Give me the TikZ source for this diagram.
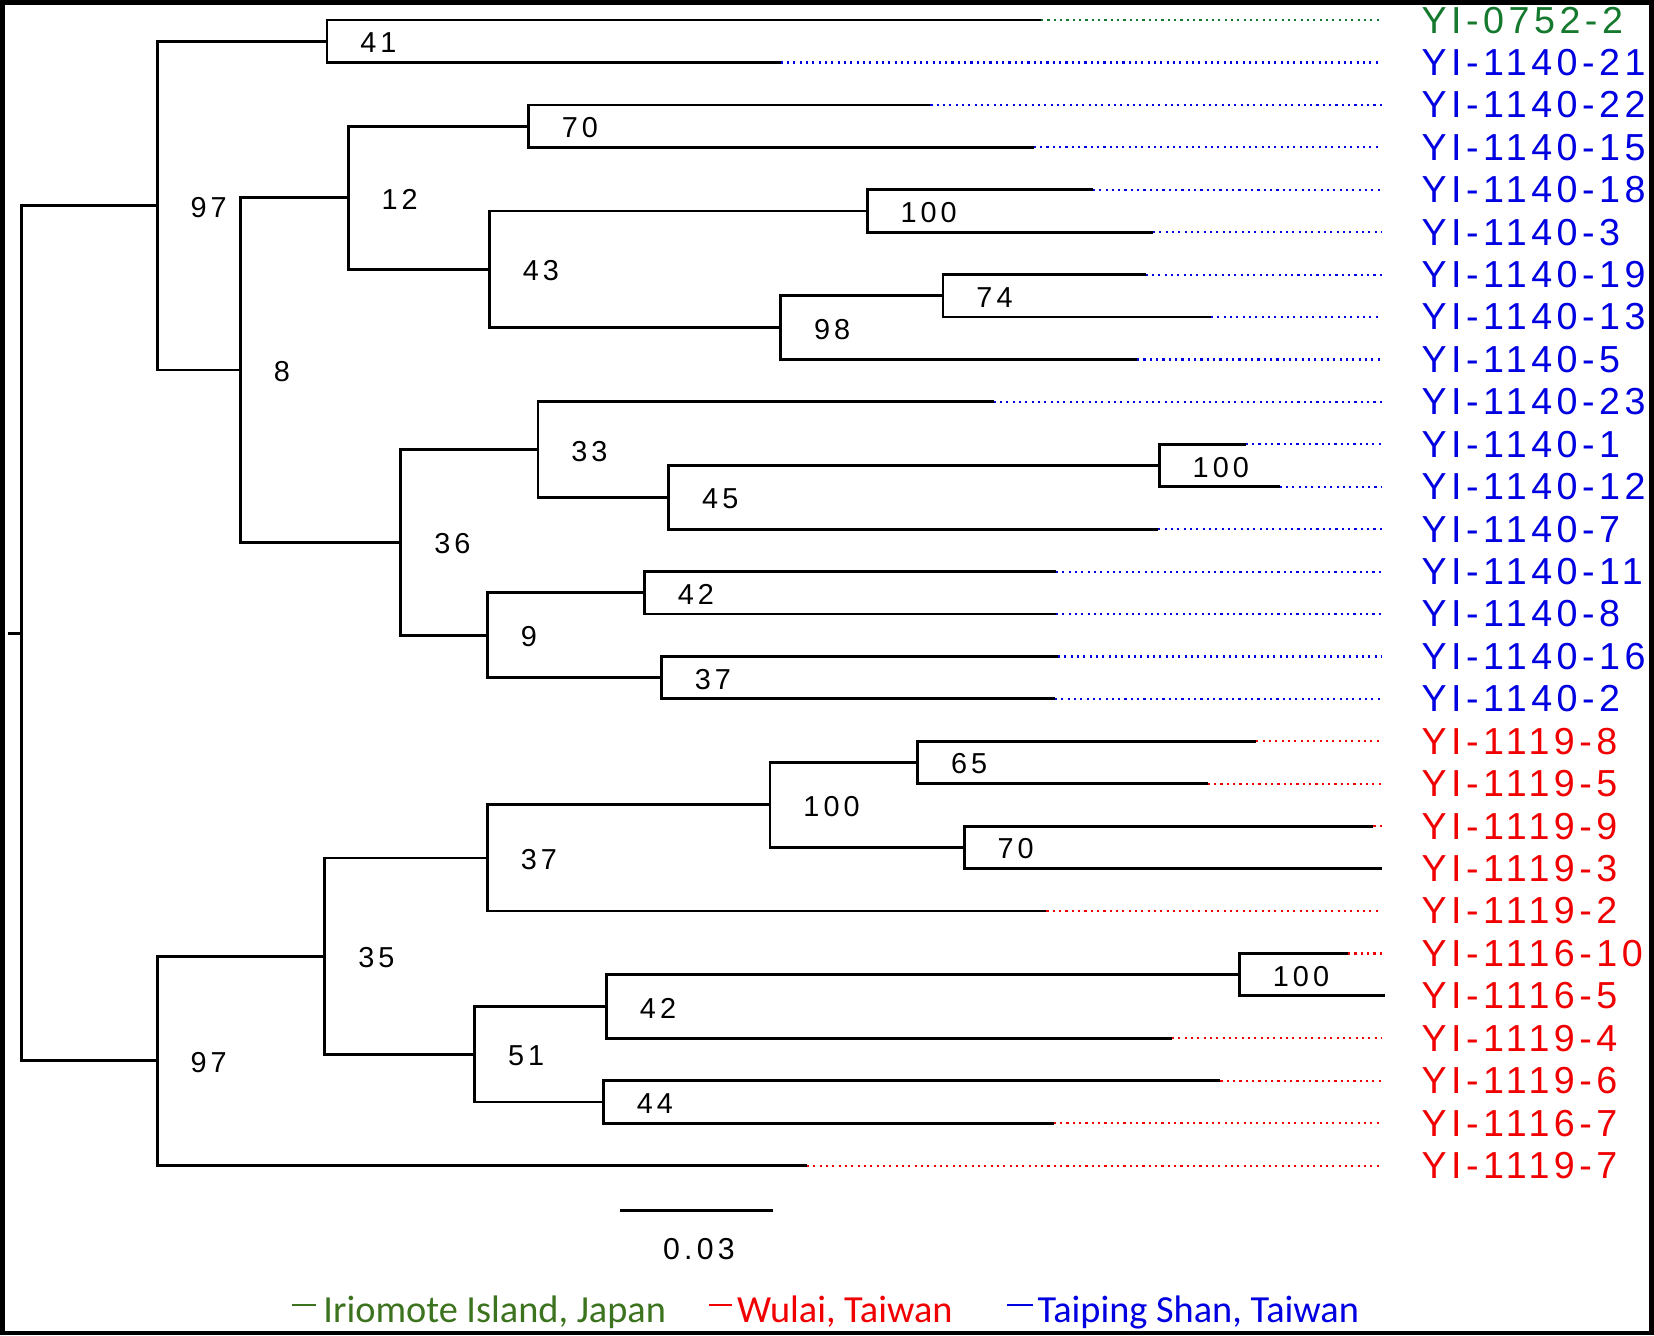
\documentclass[tikz,border=0pt]{standalone}
\usepackage{fontspec}
\setmainfont{Liberation Sans}
\newfontfamily\taxonfont[LetterSpace=12]{Liberation Sans}
\newfontfamily\bootfont[LetterSpace=14]{Liberation Sans}
\newfontfamily\legendfont{Carlito}
\definecolor{isl}{RGB}{20,120,45}
\definecolor{islkey}{RGB}{60,115,30}
\definecolor{wul}{RGB}{240,0,0}
\definecolor{tps}{RGB}{0,0,225}
\tikzset{
  branch/.style={line width=0.8pt},
  tipline/.style={line width=0.6pt, dash pattern=on 0.6pt off 1.2pt},
  boot/.style={anchor=west, inner sep=0pt, xshift=9.3pt, yshift=-0.45pt, font=\bootfont\fontsize{8.2}{8.2}\selectfont},
  taxon/.style={anchor=west, inner sep=0pt, font=\taxonfont\fontsize{10.7}{10.7}\selectfont},
  keyline/.style={line width=0.6pt},
  place/.style={anchor=base west, inner sep=0pt, font=\legendfont\fontsize{10.9}{10.9}\selectfont}
}

\begin{document}
\begin{tikzpicture}[x=0.010548cm, y=-0.010548cm]
\useasboundingbox (0,0) rectangle (1568,1266);
\draw[line width=1.3pt] (2.2,2.2) rectangle (1565.8,1263.8);
%leaves
\foreach \i/\nm/\tip/\col in {
 1/YI-0752-2/987/isl, 2/YI-1140-21/740/tps, 3/YI-1140-22/882/tps, 4/YI-1140-15/980/tps,
 5/YI-1140-18/1036/tps, 6/YI-1140-3/1093/tps, 7/YI-1140-19/1086/tps, 8/YI-1140-13/1148/tps,
 9/YI-1140-5/1078/tps, 10/YI-1140-23/942/tps, 11/YI-1140-1/1181/tps, 12/YI-1140-12/1213/tps,
 13/YI-1140-7/1098/tps, 14/YI-1140-11/1001/tps, 15/YI-1140-8/1001/tps, 16/YI-1140-16/1003/tps,
 17/YI-1140-2/1000/tps, 18/YI-1119-8/1191/wul, 19/YI-1119-5/1145/wul, 20/YI-1119-9/1302/wul,
 21/YI-1119-3/1310/wul, 22/YI-1119-2/992/wul, 23/YI-1116-10/1278/wul, 24/YI-1116-5/1313/wul,
 25/YI-1119-4/1111/wul, 26/YI-1119-6/1157/wul, 27/YI-1116-7/999/wul, 28/YI-1119-7/765/wul}{
  \pgfmathsetmacro\yy{19+40.22*(\i-1)}
  \coordinate (t\i) at (\tip,\yy);
  \coordinate (e\i) at (1310,\yy);
  \node[taxon, text=\col] (l\i) at (1347,\yy) {\nm};
  \draw[tipline, draw=\col] (t\i) -- (e\i);
}
%inner nodes
\coordinate (stub) at (8,600.3);
\coordinate (root) at (20,600.3);
\coordinate (b97u) at (149,195);
\coordinate (b41) at (310,39.1);
\coordinate (b8) at (228,350.8);
\coordinate (b12) at (330,187.4);
\coordinate (b70u) at (501,119.55);
\coordinate (b43) at (464,255.3);
\coordinate (b100a) at (822,200);
\coordinate (b98) at (740,310.6);
\coordinate (b74) at (894,280.4);
\coordinate (b36) at (380,514.2);
\coordinate (b33) at (510,426.2);
\coordinate (b45) at (634,471.45);
\coordinate (b100b) at (1099,441.3);
\coordinate (b9) at (462,602.2);
\coordinate (b42u) at (611,562);
\coordinate (b37u) at (627,642.4);
\coordinate (b97l) at (149,1005.6);
\coordinate (b35) at (308,906.4);
\coordinate (b37l) at (462,813.3);
\coordinate (b100c) at (730,763);
\coordinate (b65) at (870,722.8);
\coordinate (b70l) at (914,803.3);
\coordinate (b51) at (450,999.4);
\coordinate (b42l) at (575,954.1);
\coordinate (b100d) at (1175,923.9);
\coordinate (b44) at (572,1044.6);
%branches
\draw[branch] (stub) -- (root);
\draw[branch] (root) |- (b97u);
\draw[branch] (root) |- (b97l);
\draw[branch] (b97u) |- (b41);
\draw[branch] (b97u) |- (b8);
\draw[branch] (b41) |- (t1);
\draw[branch] (b41) |- (t2);
\draw[branch] (b8) |- (b12);
\draw[branch] (b8) |- (b36);
\draw[branch] (b12) |- (b70u);
\draw[branch] (b12) |- (b43);
\draw[branch] (b70u) |- (t3);
\draw[branch] (b70u) |- (t4);
\draw[branch] (b43) |- (b100a);
\draw[branch] (b43) |- (b98);
\draw[branch] (b100a) |- (t5);
\draw[branch] (b100a) |- (t6);
\draw[branch] (b98) |- (b74);
\draw[branch] (b98) |- (t9);
\draw[branch] (b74) |- (t7);
\draw[branch] (b74) |- (t8);
\draw[branch] (b36) |- (b33);
\draw[branch] (b36) |- (b9);
\draw[branch] (b33) |- (t10);
\draw[branch] (b33) |- (b45);
\draw[branch] (b45) |- (b100b);
\draw[branch] (b45) |- (t13);
\draw[branch] (b100b) |- (t11);
\draw[branch] (b100b) |- (t12);
\draw[branch] (b9) |- (b42u);
\draw[branch] (b9) |- (b37u);
\draw[branch] (b42u) |- (t14);
\draw[branch] (b42u) |- (t15);
\draw[branch] (b37u) |- (t16);
\draw[branch] (b37u) |- (t17);
\draw[branch] (b97l) |- (b35);
\draw[branch] (b97l) |- (t28);
\draw[branch] (b35) |- (b37l);
\draw[branch] (b35) |- (b51);
\draw[branch] (b37l) |- (b100c);
\draw[branch] (b37l) |- (t22);
\draw[branch] (b100c) |- (b65);
\draw[branch] (b100c) |- (b70l);
\draw[branch] (b65) |- (t18);
\draw[branch] (b65) |- (t19);
\draw[branch] (b70l) |- (t20);
\draw[branch] (b70l) |- (t21);
\draw[branch] (b51) |- (b42l);
\draw[branch] (b51) |- (b44);
\draw[branch] (b42l) |- (b100d);
\draw[branch] (b42l) |- (t25);
\draw[branch] (b100d) |- (t23);
\draw[branch] (b100d) |- (t24);
\draw[branch] (b44) |- (t26);
\draw[branch] (b44) |- (t27);
%support values
\node[boot] (s97u) at (b97u) {97};
\node[boot] (s41) at (b41) {41};
\node[boot] (s8) at (b8) {8};
\node[boot] (s12) at (b12) {12};
\node[boot] (s70u) at (b70u) {70};
\node[boot] (s43) at (b43) {43};
\node[boot] (s100a) at (b100a) {100};
\node[boot] (s98) at (b98) {98};
\node[boot] (s74) at (b74) {74};
\node[boot] (s36) at (b36) {36};
\node[boot] (s33) at (b33) {33};
\node[boot] (s45) at (b45) {45};
\node[boot] (s100b) at (b100b) {100};
\node[boot] (s9) at (b9) {9};
\node[boot] (s42u) at (b42u) {42};
\node[boot] (s37u) at (b37u) {37};
\node[boot] (s97l) at (b97l) {97};
\node[boot] (s35) at (b35) {35};
\node[boot] (s37l) at (b37l) {37};
\node[boot] (s100c) at (b100c) {100};
\node[boot] (s65) at (b65) {65};
\node[boot] (s70l) at (b70l) {70};
\node[boot] (s51) at (b51) {51};
\node[boot] (s42l) at (b42l) {42};
\node[boot] (s100d) at (b100d) {100};
\node[boot] (s44) at (b44) {44};
%scale bar
\coordinate (sb0) at (588,1147.5);
\coordinate (sb1) at (733,1147.5);
\draw[branch] (sb0) -- (sb1);
\node[font=\bootfont\fontsize{8.6}{8.6}\selectfont, inner sep=0pt] (sbl) at (662.5,1184.5) {0.03};
%legend
\coordinate (k1a) at (277,1237.5); \coordinate (k1b) at (300,1237.5);
\coordinate (k2a) at (672,1237.5); \coordinate (k2b) at (694,1237.5);
\coordinate (k3a) at (955,1237.5); \coordinate (k3b) at (979,1237.5);
\draw[keyline, islkey] (k1a) -- (k1b);
\draw[keyline, wul] (k2a) -- (k2b);
\draw[keyline, tps] (k3a) -- (k3b);
\node[place, text=islkey] (p1) at (306,1254) {Iriomote Island, Japan};
\node[place, text=wul] (p2) at (698,1254) {Wulai, Taiwan};
\node[place, text=tps] (p3) at (983,1254) {Taiping Shan, Taiwan};
\end{tikzpicture}
\end{document}
